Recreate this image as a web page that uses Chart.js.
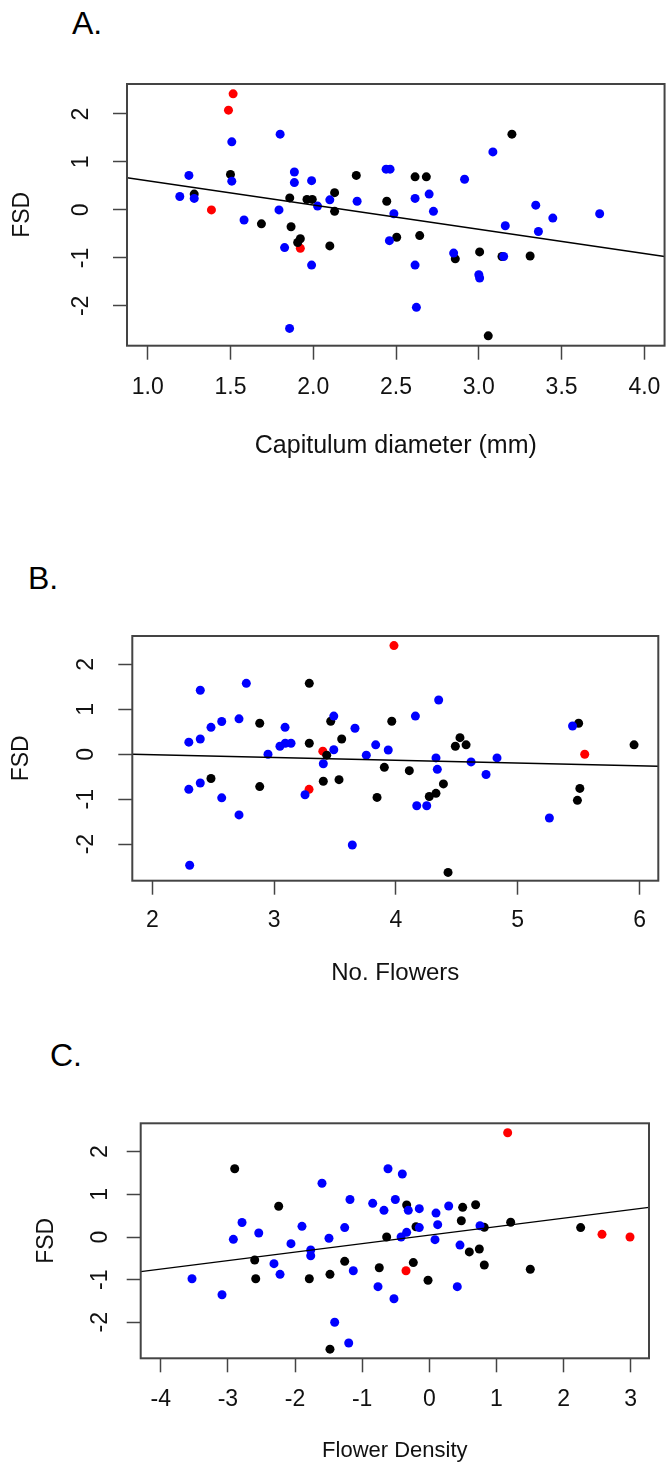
<!DOCTYPE html>
<html><head><meta charset="utf-8">
<script src="https://cdn.jsdelivr.net/npm/chart.js@4.4.1/dist/chart.umd.min.js"></script>
<style>
html,body{margin:0;padding:0;background:#fff;width:667px;height:1463px;overflow:hidden;position:relative}
canvas{position:absolute;left:0}
.lab{position:absolute;font-family:"Liberation Sans",Arial,sans-serif;font-size:32px;line-height:32px;color:#000}
</style></head><body>
<div class="lab" style="left:72px;top:7px">A.</div>
<div class="lab" style="left:28px;top:562px">B.</div>
<div class="lab" style="left:50px;top:1039px">C.</div>
<canvas id="cA" width="675" height="490" style="top:0px"></canvas>
<canvas id="cB" width="667" height="510" style="top:490px"></canvas>
<canvas id="cC" width="667" height="480" style="top:1000px"></canvas>
<script>
// ---------- Panel A: Capitulum diameter ----------
const capBlueX = [1.508,1.80,1.249,1.508,1.194,1.281,1.886,1.886,1.99,2.10,2.026,2.265,1.793,1.582,1.827,1.99,1.857,2.44,2.464,2.487,2.46,2.615,2.70,2.726,2.914,3.085,2.615,2.623,2.848,3.0,3.005,3.15,3.16,3.344,3.36,3.447,3.73];
const capBlueY = [1.42,1.58,0.72,0.60,0.28,0.24,0.79,0.57,0.61,0.21,0.08,0.18,0.0,-0.21,-0.785,-1.15,-2.47,0.85,0.85,-0.08,-0.64,0.24,0.33,-0.03,0.64,1.21,-1.15,-2.03,-0.90,-1.35,-1.42,-0.97,-0.33,0.10,-0.45,-0.17,-0.08];
const capBlackX = [1.281,1.50,1.687,1.858,1.866,1.922,1.906,1.962,1.994,2.129,2.129,2.10,2.26,2.444,2.504,2.615,2.683,2.643,2.858,3.005,3.14,3.31,3.20,3.057];
const capBlackY = [0.33,0.74,-0.29,0.25,-0.35,-0.60,-0.68,0.22,0.22,0.36,-0.03,-0.75,0.72,0.18,-0.57,0.69,0.69,-0.535,-1.02,-0.875,-0.97,-0.96,1.58,-2.625];
const capRedX = [1.516,1.488,1.385,1.922];
const capRedY = [2.42,2.08,0.0,-0.80];
const capLineX = [0.875,4.122];
const capLineY = [0.67,-0.97];
const capXTicks = [1.0,1.5,2.0,2.5,3.0,3.5,4.0];

// ---------- Panel B: No. Flowers ----------
const flwBlueX = [2.394,2.772,2.30,2.394,2.482,2.57,2.712,2.95,3.09,3.048,3.092,3.139,3.49,3.49,3.404,3.254,3.664,3.834,3.757,3.937,2.30,2.394,2.57,2.712,3.642,2.307,4.16,4.351,4.329,4.34,4.617,4.83,4.74,4.171,4.253,5.26,5.45];
const flwBlueY = [1.425,1.58,0.27,0.34,0.60,0.73,0.79,0.0,0.60,0.18,0.245,0.245,0.85,0.10,-0.21,-0.90,0.58,0.21,-0.02,0.096,-0.78,-0.64,-0.97,-1.35,-2.02,-2.47,0.85,1.21,-0.08,-0.335,-0.17,-0.08,-0.45,-1.145,-1.145,-1.42,0.63];
const flwBlackX = [3.289,2.882,3.465,3.555,3.289,3.432,2.482,2.882,3.404,3.533,3.845,3.966,3.905,4.11,4.526,4.488,4.576,4.39,4.329,4.274,4.428,5.50,5.51,5.49,5.955];
const flwBlackY = [1.58,0.69,0.735,0.34,0.245,-0.02,-0.54,-0.72,-0.60,-0.565,-0.96,0.735,-0.29,-0.365,0.37,0.18,0.21,-0.66,-0.87,-0.94,-2.63,0.69,-0.76,-1.025,0.21];
const flwRedX = [3.984,3.40,3.287,5.55];
const flwRedY = [2.42,0.07,-0.78,0.0];
const flwLineX = [1.836,6.154];
const flwLineY = [0.0,-0.267];
const flwXTicks = [2,3,4,5,6];

// ---------- Panel C: Flower Density ----------
const denBlueX = [-3.534,-3.087,-2.918,-2.789,-2.54,-2.313,-2.223,-2.06,-1.896,-1.766,-1.766,-1.598,-1.494,-1.26,-1.181,-1.132,-1.409,-1.20,-0.843,-0.675,-0.615,-0.506,-0.764,-0.526,-0.402,-0.42,-0.313,-0.149,0.10,0.289,-0.149,0.125,0.085,-0.337,0.457,0.417,0.755];
const denBlueY = [-0.98,-1.355,-0.055,0.34,0.094,-0.625,-0.875,-0.156,0.25,-0.305,-0.44,1.26,-0.03,0.22,0.88,-0.79,-2.0,-2.485,0.79,0.625,1.60,0.88,-1.165,-1.447,1.477,0.0,0.625,0.665,0.56,0.727,0.22,0.29,-0.063,0.11,-0.19,-1.165,0.265];
const denBlackX = [-2.898,-2.243,-2.60,-2.585,-1.787,-1.479,-1.26,-0.745,-0.635,-1.479,-0.337,-0.198,-0.238,-0.019,0.477,0.497,0.69,0.596,0.745,0.819,0.819,1.212,1.504,2.254];
const denBlackY = [1.60,0.72,-0.54,-0.98,-0.98,-0.875,-0.57,-0.72,0.0,-2.63,0.75,0.24,-0.60,-1.015,0.38,0.695,0.757,-0.35,-0.28,0.227,-0.657,0.345,-0.757,0.22];
const denRedX = [1.167,-0.347,2.572,2.989];
const denRedY = [2.445,-0.79,0.063,0.0];
const denLineX = [-4.298,3.272];
const denLineY = [-0.813,0.696];
const denXTicks = [-4,-3,-2,-1,0,1,2,3];

const fsdTicks = [-2,-1,0,1,2];

const FAMILY = '"Liberation Sans", Arial, sans-serif';
const pts = (xs, ys) => xs.map((x, i) => ({x, y: ys[i]}));

const framePlugin = {
  id: 'frame',
  afterDraw(chart, args, opts) {
    const {ctx, chartArea: a} = chart;
    const y = chart.scales.y;
    ctx.save();
    ctx.strokeStyle = '#444';
    ctx.lineWidth = 2;
    ctx.strokeRect(a.left, a.top, a.right - a.left, a.bottom - a.top);
    ctx.fillStyle = '#111';
    ctx.font = opts.size + 'px ' + FAMILY;
    ctx.textAlign = 'center';
    ctx.textBaseline = 'middle';
    y.ticks.forEach(t => {
      const py = y.getPixelForValue(t.value);
      ctx.save();
      ctx.translate(opts.labelX, py);
      ctx.rotate(-Math.PI / 2);
      ctx.fillText(String(t.value), 0, 0);
      ctx.restore();
    });
    ctx.restore();
  }
};

function makeChart(id, d, g) {
  const gridOpts = {display: true, drawOnChartArea: false, drawTicks: true, tickLength: 14, tickWidth: 1.5, tickColor: '#444'};
  const pointDs = (xs, ys, col) => ({data: pts(xs, ys), backgroundColor: col, borderWidth: 0, pointRadius: 4.5, showLine: false});
  return new Chart(document.getElementById(id), {
    type: 'scatter',
    data: {datasets: [
      {type: 'line', data: pts(d.lineX, d.lineY), borderColor: '#000', borderWidth: 1.4, pointRadius: 0, fill: false, tension: 0},
      pointDs(d.blueX, d.blueY, '#0000ff'),
      pointDs(d.blackX, d.blackY, '#000000'),
      pointDs(d.redX, d.redY, '#ff0000')
    ]},
    options: {
      responsive: false, animation: false, events: [],
      layout: {autoPadding: false, padding: {left: 0, right: g.padR, top: g.top, bottom: g.padB}},
      plugins: {legend: {display: false}, tooltip: {enabled: false}, frame: {labelX: g.yLabelX, size: g.fs}},
      scales: {
        x: {
          type: 'linear', min: g.xMin, max: g.xMax,
          afterBuildTicks: s => { s.ticks = d.xTicks.map(v => ({value: v})); },
          afterFit: s => { s.height = g.xH; },
          grid: gridOpts, border: {display: false},
          ticks: {padding: g.xPad, color: '#111', font: {family: FAMILY, size: g.fs}, maxRotation: 0, autoSkip: false,
                  callback: v => d.fmt(v)},
          title: {display: true, text: d.xTitle, color: '#111', font: {family: FAMILY, size: g.tfs}, padding: {top: 0, bottom: g.titlePadB}}
        },
        y: {
          type: 'linear', min: g.yMin, max: g.yMax,
          afterBuildTicks: s => { s.ticks = fsdTicks.map(v => ({value: v})); },
          afterFit: s => { s.width = g.yW; },
          grid: gridOpts, border: {display: false},
          ticks: {display: false},
          title: {display: true, text: 'FSD', color: '#111', font: {family: FAMILY, size: g.fs}, padding: {top: g.yTitlePad, bottom: 0}}
        }
      }
    },
    plugins: [framePlugin]
  });
}

makeChart('cA',
  {blueX: capBlueX, blueY: capBlueY, blackX: capBlackX, blackY: capBlackY, redX: capRedX, redY: capRedY,
   lineX: capLineX, lineY: capLineY, xTicks: capXTicks, xTitle: 'Capitulum diameter (mm)', fmt: v => v.toFixed(1)},
  {xMin: 0.875, xMax: 4.122, yMin: -2.83, yMax: 2.625, top: 84, padR: 4, padB: 24.3, xH: 120, yW: 127,
   xPad: 14.5, titlePadB: 4.7, yTitlePad: 8.7, yLabelX: 81.7, fs: 23, tfs: 25});

makeChart('cB',
  {blueX: flwBlueX, blueY: flwBlueY, blackX: flwBlackX, blackY: flwBlackY, redX: flwRedX, redY: flwRedY,
   lineX: flwLineX, lineY: flwLineY, xTicks: flwXTicks, xTitle: 'No. Flowers', fmt: v => String(v)},
  {xMin: 1.836, xMax: 6.154, yMin: -2.815, yMax: 2.634, top: 146, padR: 8.7, padB: 9.3, xH: 110, yW: 132.3,
   xPad: 12.5, titlePadB: 2.8, yTitlePad: 8.2, yLabelX: 87, fs: 23, tfs: 24});

makeChart('cC',
  {blueX: denBlueX, blueY: denBlueY, blackX: denBlackX, blackY: denBlackY, redX: denRedX, redY: denRedY,
   lineX: denLineX, lineY: denLineY, xTicks: denXTicks, xTitle: 'Flower Density', fmt: v => String(v)},
  {xMin: -4.298, xMax: 3.272, yMin: -2.844, yMax: 2.666, top: 123.3, padR: 18, padB: 11.7, xH: 110, yW: 140.7,
   xPad: 13.4, titlePadB: 4.1, yTitlePad: 32.9, yLabelX: 100.7, fs: 23, tfs: 22});
</script>
</body></html>
